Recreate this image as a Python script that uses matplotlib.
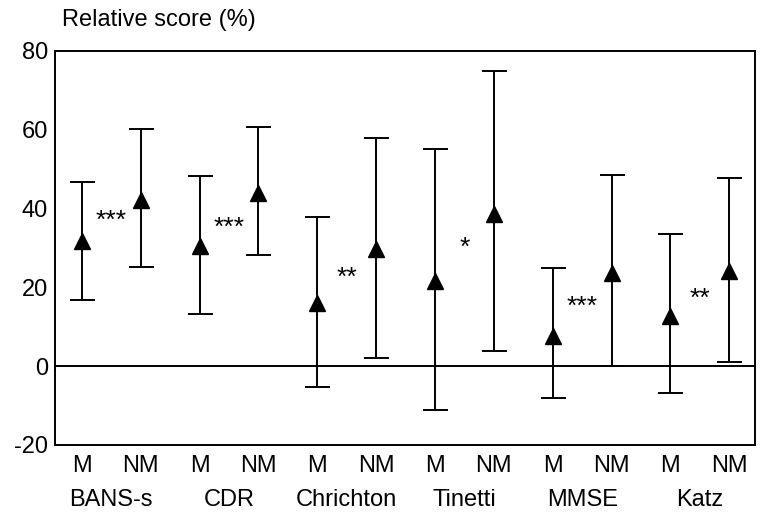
import matplotlib.pyplot as plt

plt.rcParams['font.family'] = ['Liberation Sans', 'DejaVu Sans']
plt.rcParams['axes.unicode_minus'] = False

groups = ["BANS-s", "CDR", "Chrichton", "Tinetti", "MMSE", "Katz"]
subgroups = ["M", "NM"]

# mean, lower and upper for each bar, in order M, NM per group
means = [31.8, 42.2, 30.5, 44.0, 16.0, 29.8, 21.6, 38.7, 7.6, 23.7, 12.7, 24.2]
lower = [16.8, 25.2, 13.2, 28.2, -5.3, 2.0, -11.0, 3.8, -8.1, 0.0, -6.9, 1.0]
upper = [46.8, 60.3, 48.3, 60.6, 37.9, 57.8, 55.2, 75.0, 25.0, 48.6, 33.6, 47.8]

# significance marks between M and NM of each group
stars = ["***", "***", "**", "*", "***", "**"]
star_y = [36.8, 35, 22.5, 30, 15, 17]

fig = plt.figure(figsize=(7.6, 5.13), dpi=100)
ax = fig.add_axes([0.072, 0.1326, 0.921, 0.768])

xs = list(range(len(means)))
err_lo = [m - lo for m, lo in zip(means, lower)]
err_hi = [hi - m for m, hi in zip(means, upper)]
ax.errorbar(xs, means, yerr=[err_lo, err_hi], fmt="^", color="black",
            markersize=11, capsize=9, elinewidth=1.4, capthick=1.4)

ax.axhline(0, color="black", lw=1.4)

for i, s in enumerate(stars):
    ax.text(2 * i + 0.5, star_y[i], s, ha="center", va="center", fontsize=19)

ax.set_xlim(-0.46, 11.43)
ax.set_ylim(-20, 80)
ax.set_yticks([-20, 0, 20, 40, 60, 80])
ax.set_xticks(xs)
ax.set_xticklabels(subgroups * len(groups))
ax.tick_params(length=0, labelsize=17, pad=5)
ax.tick_params(axis="x", pad=7)

for i, g in enumerate(groups):
    ax.text(2 * i + 0.5, -0.14, g, transform=ax.get_xaxis_transform(),
            ha="center", va="center", fontsize=17)

for sp in ax.spines.values():
    sp.set_linewidth(1.4)

fig.text(62 / 760, 1 - 20 / 513, "Relative score (%)", ha="left", va="center", fontsize=17)

fig.savefig("out.png", dpi=100)
